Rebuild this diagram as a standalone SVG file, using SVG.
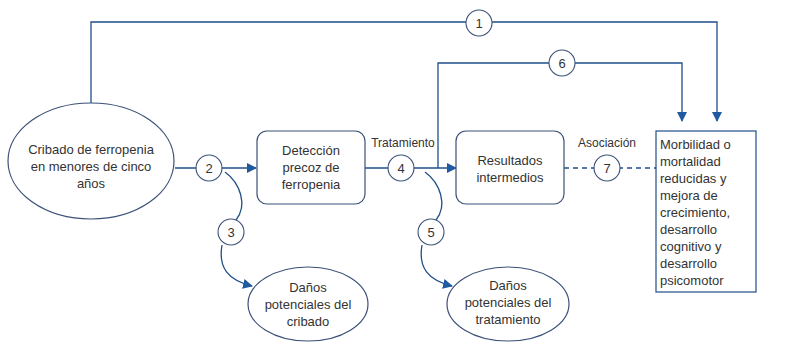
<svg xmlns="http://www.w3.org/2000/svg" width="805" height="356" viewBox="0 0 805 356">
<style>
.t{font-family:"Liberation Sans",Arial,sans-serif;font-size:13px;fill:#333;}
.c{text-anchor:middle;}
.ln{fill:none;stroke:#1f4f8a;stroke-width:1.3;}
.dash{fill:none;stroke:#1f4f8a;stroke-width:1.3;stroke-dasharray:5,4;}
.nd{fill:#fff;stroke:#3b5178;stroke-width:1.2;}
.num{fill:#fff;stroke:#3b5178;stroke-width:1.1;}
</style>
<defs>
<marker id="ah" markerWidth="10" markerHeight="10" refX="9" refY="5" orient="auto" markerUnits="userSpaceOnUse">
<path d="M0,0 L10,5 L0,10 Z" fill="#1f5aa0"/>
</marker>
</defs>
<rect width="805" height="356" fill="#fff"/>
<g id="connectors">
<path class="ln" d="M91,103 V22 H717 V121" marker-end="url(#ah)"/>
<path class="ln" d="M438,168 V63 H682 V121" marker-end="url(#ah)"/>
<path class="ln" d="M175,168 H256" marker-end="url(#ah)"/>
<path class="ln" d="M365,168 H456" marker-end="url(#ah)"/>
<path class="dash" d="M564,168 H656"/>
<path class="ln" d="M225,172 C240,183 248,205 236,220"/>
<path class="ln" d="M222,245 C218,268 228,280 252,286" marker-end="url(#ah)"/>
<path class="ln" d="M425,172 C440,183 448,205 436,220"/>
<path class="ln" d="M422,245 C418,268 428,280 452,286" marker-end="url(#ah)"/>
</g>
<g id="n1"><circle class="num" cx="479" cy="23" r="13"/><text class="t c" x="479" y="28">1</text></g>
<g id="n6"><circle class="num" cx="562" cy="63" r="13"/><text class="t c" x="562" y="68">6</text></g>
<g id="n2"><circle class="num" cx="209" cy="168" r="13"/><text class="t c" x="209" y="173">2</text></g>
<g id="n4"><circle class="num" cx="401" cy="168" r="13"/><text class="t c" x="401" y="173">4</text></g>
<g id="n7"><circle class="num" cx="607" cy="168" r="13"/><text class="t c" x="607" y="173">7</text></g>
<g id="n3"><circle class="num" cx="231" cy="232" r="13"/><text class="t c" x="231" y="237">3</text></g>
<g id="n5"><circle class="num" cx="431" cy="232" r="13"/><text class="t c" x="431" y="237">5</text></g>
<g id="lbl-tratamiento"><text class="t c" x="403" y="147" style="font-size:12px">Tratamiento</text></g>
<g id="lbl-asociacion"><text class="t c" x="607" y="147" style="font-size:12px">Asociación</text></g>
<g id="cribado">
<ellipse class="nd" cx="91" cy="161" rx="83" ry="58"/>
<text class="t c" x="91" y="154">Cribado de ferropenia</text>
<text class="t c" x="91" y="171">en menores de cinco</text>
<text class="t c" x="91" y="188">años</text>
</g>
<g id="deteccion">
<rect class="nd" x="257" y="131" width="108" height="73" rx="10"/>
<text class="t c" x="311" y="155">Detección</text>
<text class="t c" x="311" y="172">precoz de</text>
<text class="t c" x="311" y="189">ferropenia</text>
</g>
<g id="resultados">
<rect class="nd" x="456" y="131" width="108" height="73" rx="10"/>
<text class="t c" x="510" y="165">Resultados</text>
<text class="t c" x="510" y="182">intermedios</text>
</g>
<g id="morbilidad">
<rect x="656" y="131" width="100" height="161" fill="#fff" stroke="#1f4f8a" stroke-width="1.2"/>
<text class="t" x="660" y="149">Morbilidad o</text>
<text class="t" x="660" y="166">mortalidad</text>
<text class="t" x="660" y="183">reducidas y</text>
<text class="t" x="660" y="200">mejora de</text>
<text class="t" x="660" y="217">crecimiento,</text>
<text class="t" x="660" y="234">desarrollo</text>
<text class="t" x="660" y="251">cognitivo y</text>
<text class="t" x="660" y="268">desarrollo</text>
<text class="t" x="660" y="285">psicomotor</text>
</g>
<g id="danos-cribado">
<ellipse class="nd" cx="308" cy="304" rx="60" ry="37"/>
<text class="t c" x="308" y="292">Daños</text>
<text class="t c" x="308" y="309">potenciales del</text>
<text class="t c" x="308" y="326">cribado</text>
</g>
<g id="danos-tratamiento">
<ellipse class="nd" cx="508" cy="304" rx="61" ry="37"/>
<text class="t c" x="508" y="290">Daños</text>
<text class="t c" x="508" y="307">potenciales del</text>
<text class="t c" x="508" y="324">tratamiento</text>
</g>
</svg>
